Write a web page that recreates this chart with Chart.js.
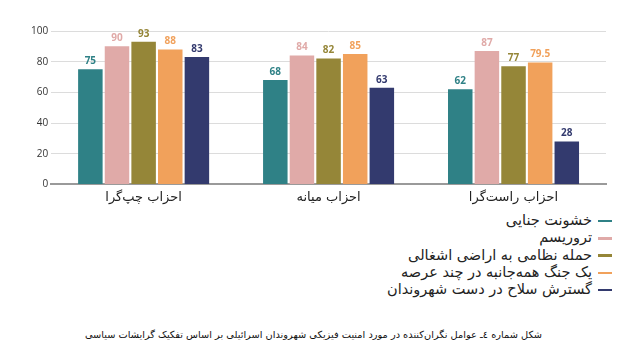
<!DOCTYPE html>
<html><head><meta charset="utf-8">
<script src="https://cdn.jsdelivr.net/npm/chart.js@4/dist/chart.umd.min.js"></script>
<style>
html,body{margin:0;padding:0;background:#fff;width:623px;height:358px;overflow:hidden;font-family:"DejaVu Sans",sans-serif;}
#wrap{position:absolute;left:0;top:0;width:623px;height:210px;}
#legend{position:absolute;right:11px;top:212px;direction:rtl;font-size:14.5px;color:#222;}
#legend div{height:17.3px;line-height:17.3px;white-space:nowrap;}
#legend span.sw{display:inline-block;width:14px;height:2.5px;vertical-align:middle;margin-left:6px;}
#caption{position:absolute;left:2px;width:623px;top:329px;text-align:center;direction:rtl;font-size:9.8px;color:#111;}
</style></head>
<body>
<div id="wrap"><canvas id="c"></canvas></div>
<div id="legend"></div>
<div id="caption">شکل شماره ٤ـ عوامل نگران‌کننده در مورد امنیت فیزیکی شهروندان اسرائیلی بر اساس تفکیک گرایشات سیاسی</div>
<script>
const categories = ["احزاب چپ‌گرا", "احزاب میانه", "احزاب راست‌گرا"];
const seriesNames = ["خشونت جنایی", "تروریسم", "حمله نظامی به اراضی اشغالی", "یک جنگ همه‌جانبه در چند عرصه", "گسترش سلاح در دست شهروندان"];
const criminalViolence = [75, 68, 62];
const terrorism = [90, 84, 87];
const militaryAttack = [93, 82, 77];
const multiFrontWar = [88, 85, 79.5];
const weaponsSpread = [83, 63, 28];
const yTicks = [0, 20, 40, 60, 80, 100];
const colors = ["#2f8186", "#e0aaa8", "#958638", "#f1a15b", "#333a6e"];

const values = [criminalViolence, terrorism, militaryAttack, multiFrontWar, weaponsSpread];

const valueLabels = {
  id: 'valueLabels',
  afterDatasetsDraw(chart) {
    const ctx = chart.ctx;
    ctx.save();
    ctx.font = 'bold 10px "Open Sans", sans-serif';
    ctx.textAlign = 'center';
    ctx.textBaseline = 'bottom';
    chart.data.datasets.forEach((ds, i) => {
      const meta = chart.getDatasetMeta(i);
      meta.data.forEach((bar, j) => {
        ctx.fillStyle = ds.backgroundColor;
        ctx.fillText(String(ds.data[j]), bar.x, bar.y - 3);
      });
    });
    ctx.restore();
  }
};

const chart = new Chart(document.getElementById('c'), {
  type: 'bar',
  data: {
    labels: categories,
    datasets: seriesNames.map((n, i) => ({
      label: n,
      data: values[i],
      backgroundColor: colors[i],
      categoryPercentage: 0.72,
      barPercentage: 0.92
    }))
  },
  options: {
    responsive: true,
    maintainAspectRatio: false,
    animation: false,
    layout: { padding: { left: 28, right: 17, top: 31, bottom: 0 } },
    plugins: { legend: { display: false }, tooltip: { enabled: false } },
    scales: {
      x: {
        grid: { display: false, drawTicks: false },
        border: { color: '#9a9a9a', width: 2 },
        ticks: { color: '#222', font: { family: 'DejaVu Sans', size: 13 }, padding: 5 }
      },
      y: {
        min: 0, max: 100,
        afterBuildTicks: (s) => { s.ticks = yTicks.map(v => ({ value: v })); },
        grid: { color: '#dcdcdc', lineWidth: 1, drawTicks: false },
        border: { display: false },
        ticks: { color: '#333', font: { family: 'Open Sans', size: 10 }, padding: 3 }
      }
    }
  },
  plugins: [valueLabels]
});

const lg = document.getElementById('legend');
seriesNames.forEach((n, i) => {
  const d = document.createElement('div');
  d.innerHTML = '<span class="sw" style="background:' + colors[i] + '"></span>' + n;
  lg.appendChild(d);
});
</script>
</body></html>
